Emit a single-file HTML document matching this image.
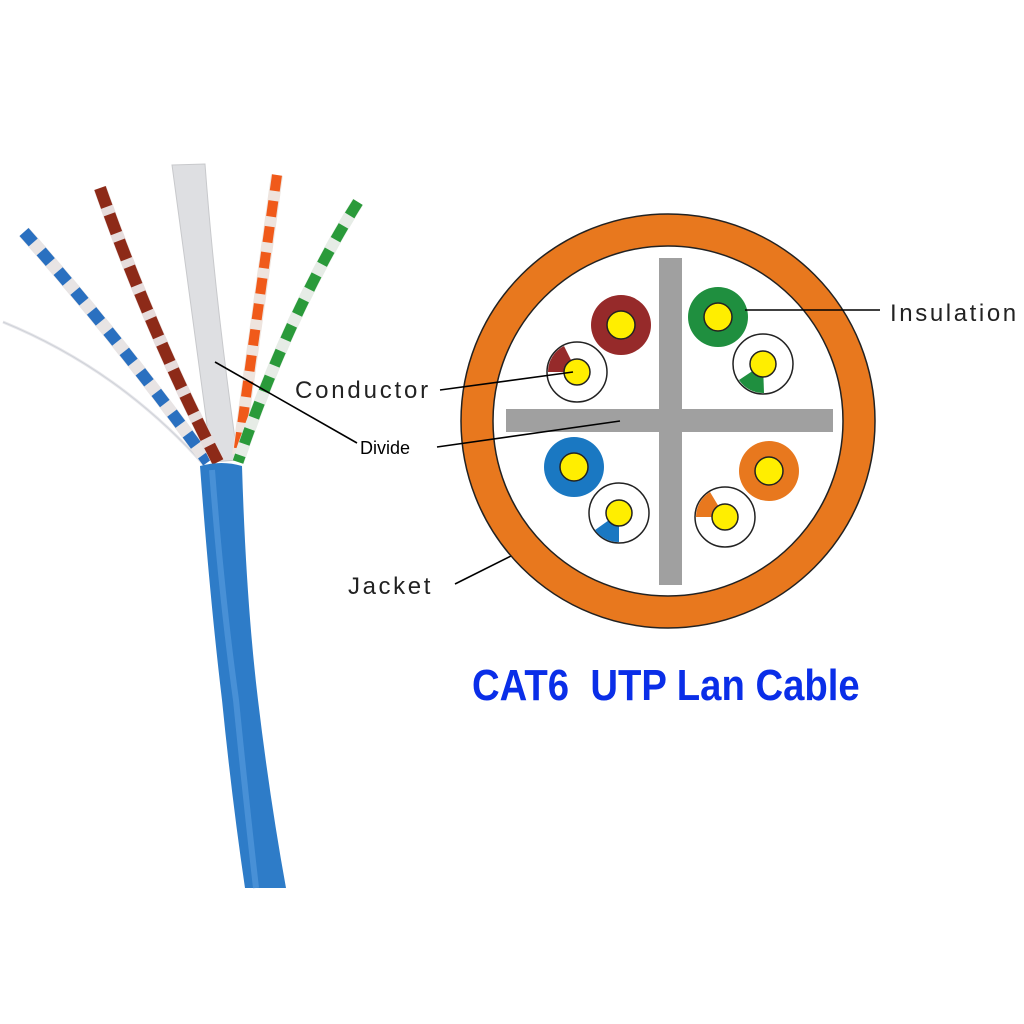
<!DOCTYPE html>
<html><head><meta charset="utf-8"><style>
html,body{margin:0;padding:0;background:#fff;width:1024px;height:1024px;overflow:hidden}
svg{display:block}
</style></head><body>
<svg width="1024" height="1024" viewBox="0 0 1024 1024" xmlns="http://www.w3.org/2000/svg">
<rect width="1024" height="1024" fill="#fff"/>
<!-- cable photo -->
<path d="M3 322 Q120 370 205 466" stroke="#e6e6ea" stroke-width="3" fill="none"/>
<path d="M3 322 Q120 370 205 466" stroke="#cfd2d8" stroke-width="1" fill="none"/>
<!-- separator strip -->
<path d="M172 165 L205 164 Q215 300 238 460 L212 462 Q190 300 172 165 Z" fill="#dedfe2" stroke="#c8c9cc" stroke-width="1"/>
<!-- blue pair -->
<path d="M24 232 Q120 340 208 462" stroke="#e8e4e4" stroke-width="13" fill="none"/>
<path d="M24 232 Q120 340 208 462" stroke="#2a70c0" stroke-width="12" stroke-dasharray="14 12" fill="none"/>
<!-- brown pair -->
<path d="M100 188 Q150 330 218 462" stroke="#e6dcdc" stroke-width="13" fill="none"/>
<path d="M100 188 Q150 330 218 462" stroke="#8d2a18" stroke-width="12" stroke-dasharray="20 8" fill="none"/>
<!-- orange pair -->
<path d="M277 175 Q255 330 238 455" stroke="#eee4de" stroke-width="12" fill="none"/>
<path d="M277 175 Q255 330 238 455" stroke="#f05a1a" stroke-width="10" stroke-dasharray="16 10" fill="none"/>
<!-- green pair -->
<path d="M358 202 Q290 310 238 462" stroke="#e6ece6" stroke-width="12" fill="none"/>
<path d="M358 202 Q290 310 238 462" stroke="#2a9a3a" stroke-width="11" stroke-dasharray="16 12" fill="none"/>
<!-- jacket -->
<path d="M200 466 Q222 460 242 466 Q246 600 258 700 Q270 800 286 888 L245 888 Q232 800 222 700 Q210 600 200 466 Z" fill="#2e7cc8"/>
<path d="M212 470 Q222 600 236 700 Q246 800 256 888" stroke="#5a9ee0" stroke-width="6" fill="none" opacity="0.6"/>
<!-- leader lines -->
<g stroke="#000" stroke-width="1.6" fill="none">
<line x1="215" y1="362" x2="357" y2="443"/>
<line x1="455" y1="584" x2="521" y2="551"/>
</g>
<!-- cross-section -->
<circle cx="668" cy="421" r="191" fill="none" stroke="#e8781e" stroke-width="32"/>
<circle cx="668" cy="421" r="207" fill="none" stroke="#222" stroke-width="1.5"/>
<circle cx="668" cy="421" r="175" fill="#fff" stroke="#222" stroke-width="1.5"/>
<rect x="659" y="258" width="23" height="327" fill="#a0a0a0"/>
<rect x="506" y="409" width="327" height="23" fill="#a0a0a0"/>
<!-- solid wires -->
<g stroke="#222" stroke-width="1.5">
<circle cx="621" cy="325" r="30" fill="#962a2a" stroke="none"/><circle cx="621" cy="325" r="14" fill="#ffee00"/>
<circle cx="718" cy="317" r="30" fill="#1f8f3f" stroke="none"/><circle cx="718" cy="317" r="14" fill="#ffee00"/>
<circle cx="574" cy="467" r="30" fill="#1a78c2" stroke="none"/><circle cx="574" cy="467" r="14" fill="#ffee00"/>
<circle cx="769" cy="471" r="30" fill="#e8781e" stroke="none"/><circle cx="769" cy="471" r="14" fill="#ffee00"/>
</g>
<!-- striped wires -->
<g stroke="#222" stroke-width="1.5">
<circle cx="577" cy="372" r="30" fill="#fff"/>
<path d="M577 372 L548 372 A29 29 0 0 1 564 346 Z" fill="#962a2a" stroke="none"/>
<circle cx="577" cy="372" r="13" fill="#ffee00"/>
<circle cx="763" cy="364" r="30" fill="#fff"/>
<path d="M763 364 L764 393 A29 29 0 0 1 739 380 Z" fill="#1f8f3f" stroke="none"/>
<circle cx="763" cy="364" r="13" fill="#ffee00"/>
<circle cx="619" cy="513" r="30" fill="#fff"/>
<path d="M619 513 L619 542 A29 29 0 0 1 595 530 Z" fill="#1a78c2" stroke="none"/>
<circle cx="619" cy="513" r="13" fill="#ffee00"/>
<circle cx="725" cy="517" r="30" fill="#fff"/>
<path d="M725 517 L696 517 A29 29 0 0 1 710 492 Z" fill="#e8781e" stroke="none"/>
<circle cx="725" cy="517" r="13" fill="#ffee00"/>
</g>
<g stroke="#000" stroke-width="1.6" fill="none">
<line x1="437" y1="447" x2="620" y2="421"/>
<line x1="440" y1="390" x2="573" y2="372"/>
<line x1="745" y1="310" x2="880" y2="310"/>
</g>
<!-- labels -->
<g font-family="Liberation Sans, sans-serif" fill="#222" font-size="24">
<text x="890" y="321" letter-spacing="2.6">Insulation</text>
<text x="295" y="398" letter-spacing="2.8">Conductor</text>
<text x="348" y="594" letter-spacing="2.6">Jacket</text>
</g>
<text x="360" y="454" font-family="Liberation Sans, sans-serif" font-size="18" fill="#000">Divide</text>
<text x="0" y="0" xml:space="preserve" font-family="Liberation Sans, sans-serif" font-weight="bold" font-size="44" fill="#0a2ee8" transform="translate(472 700) scale(0.87 1)">CAT6  UTP Lan Cable</text>
</svg>
</body></html>
